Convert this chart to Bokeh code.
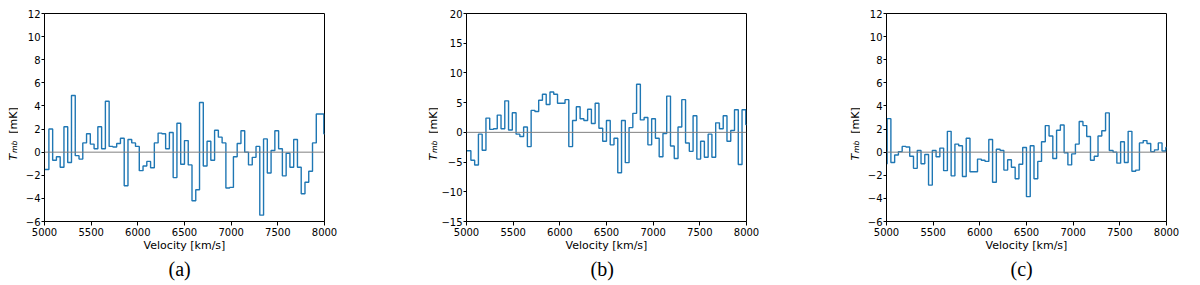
import numpy as np
from math import pi
from bokeh.plotting import figure
from bokeh.layouts import row
from bokeh.models import Span, Label, Title
from bokeh.embed import file_html
from bokeh.resources import INLINE

# ---- data -------------------------------------------------------------
V_START = 4986.5      # centre of first channel [km/s]
DV = 40.35            # channel width [km/s]
N_CHAN = 76
velocity = V_START + DV * np.arange(N_CHAN)

tmb_a = [-1.5, -1.5, 2.0, -0.7, -0.4, -1.3, 2.2, -0.9, 4.9, -0.3,
         -0.6, 0.8, 1.6, 0.7, 0.3, 2.2, 0.3, 4.4, 0.5, 0.45,
         0.75, 1.2, -2.9, 1.1, 0.8, 0.5, -1.6, -1.2, -0.8, -1.35,
         0.8, 1.65, 1.6, 0.3, 1.7, -2.2, 2.5, -1.05, 1.0, -1.1,
         -4.2, -3.25, 4.3, -1.2, 0.95, -0.7, 1.9, 1.3, 0.8, -3.1,
         -3.05, -0.4, 0.75, 1.85, 0.0, -1.1, -0.45, 0.5, -5.45, 1.15,
         -1.8, 0.15, 1.85, 0.3, -2.05, -0.1, -1.3, 1.1, -1.3, -3.6,
         -2.6, -1.65, 0.8, 3.3, 3.3, 1.6]

tmb_b = [-3.1, -3.1, -4.7, -5.5, -0.3, -3.0, 2.4, 0.5, 0.6, 2.9,
         0.6, 5.3, 0.4, 3.3, -0.3, -0.7, 0.9, -2.4, 3.7, 3.5,
         5.4, 6.4, 4.7, 6.8, 6.4, 4.9, 4.9, 5.5, -2.4, 2.0,
         4.3, 2.3, 2.0, 3.9, 1.5, 4.9, 0.7, -1.5, 2.0, -2.1,
         -1.0, -6.8, 2.0, -5.1, 0.8, 3.2, 8.1, 2.1, 2.5, -2.1,
         2.3, -1.0, -4.1, -0.2, 6.1, -2.3, -4.4, 0.9, 5.5, -1.8,
         -3.2, 2.8, -4.5, -1.5, -4.2, -0.3, -4.2, 1.6, 0.6, 2.8,
         -1.5, 0.3, 3.8, -5.4, 3.8, 1.3]

tmb_c = [-1.0, 2.9, -0.9, -0.25, 0.05, 0.5, 0.45, -0.35, -1.4, 0.15,
         -1.0, -0.2, -2.85, 0.15, -0.4, 0.35, -1.6, 1.8, -2.05, 0.7,
         0.55, -2.1, 1.2, -1.7, -1.7, -0.6, -0.7, -0.8, 1.1, -2.6,
         0.25, 0.15, -1.55, -0.65, -1.3, -2.3, -1.05, 0.4, -3.85, 0.55,
         -2.3, -0.8, 0.9, 2.3, 1.4, -0.55, 1.9, 2.35, -0.05, -1.1,
         -0.15, 0.7, 2.65, 2.3, 1.35, -0.7, -0.35, 1.4, 1.85, 3.4,
         0.15, 0.0, -0.95, 0.9, -0.9, 1.8, -1.65, -1.55, 0.8, 1.0,
         0.75, 0.05, 0.2, 0.8, 0.1, 0.4]

x_ticks = [5000, 5500, 6000, 6500, 7000, 7500, 8000]
y_ticks_ac = [-6, -4, -2, 0, 2, 4, 6, 8, 10, 12]
y_ticks_b = [-15, -10, -5, 0, 5, 10, 15, 20]
x_limits = (5000, 8000)
y_limits_ac = (-6, 12)
y_limits_b = (-15, 20)
captions = ["(a)", "(b)", "(c)"]
x_label = "Velocity [km/s]"

LINE_BLUE = "#1f77b4"
FONT = "DejaVu Sans"

# ---- layout constants (pixels) ---------------------------------------
TOP = 13
FRAME_W = 280
FRAME_H = 208
BOTTOM = 64
TOTAL_H = TOP + FRAME_H + BOTTOM
LABEL_W = 18          # strip holding the rotated y label
AXIS_W = 26           # room for the y tick labels
CAPTION_SHIFT = 124   # left edge of the caption, from the frame's left


def minus(v):
    return str(v).replace("-", "\u2212")


def ylabel_strip():
    s = figure(frame_width=LABEL_W, frame_height=TOTAL_H,
               min_border=0, x_range=(0, LABEL_W), y_range=(0, TOTAL_H),
               x_axis_type=None, y_axis_type=None,
               output_backend="svg", toolbar_location=None)
    s.outline_line_color = None
    s.xgrid.visible = False
    s.ygrid.visible = False
    s.background_fill_color = "white"
    s.border_fill_color = "white"
    yc = TOTAL_H - (TOP + FRAME_H / 2)
    common = dict(x=12.5, y=yc, angle=pi / 2, text_align="center",
                  text_baseline="middle", text_font=FONT,
                  text_color="black")
    s.add_layout(Label(text="T", y_offset=-26.6, text_font_size="11px",
                       text_font_style="italic", **common))
    s.add_layout(Label(text="mb", x_offset=1.8, y_offset=-16.3,
                       text_font_size="7.7px", text_font_style="italic",
                       **common))
    s.add_layout(Label(text="[mK]", y_offset=10, text_font_size="11px",
                       **common))
    return s


def make_panel(values, yticks, ylim, caption, border_right):
    p = figure(frame_width=FRAME_W, frame_height=FRAME_H,
               min_border_left=AXIS_W, min_border_right=border_right,
               min_border_top=TOP, min_border_bottom=BOTTOM,
               x_range=x_limits, y_range=ylim,
               output_backend="svg", toolbar_location=None)
    p.background_fill_color = "white"
    p.border_fill_color = "white"
    p.xgrid.visible = False
    p.ygrid.visible = False
    p.outline_line_color = "black"
    p.outline_line_width = 1

    for ax in (p.xaxis[0], p.yaxis[0]):
        ax.axis_line_color = "black"
        ax.major_tick_line_color = "black"
        ax.major_tick_out = 4
        ax.major_tick_in = 0
        ax.minor_tick_line_color = None
        ax.major_label_text_font = FONT
        ax.major_label_text_font_size = "10px"
        ax.major_label_text_color = "black"
        ax.major_label_standoff = 2

    p.xaxis.ticker = x_ticks
    p.xaxis.major_label_overrides = {t: str(t) for t in x_ticks}
    p.xaxis.axis_label = x_label
    p.xaxis.axis_label_text_font = FONT
    p.xaxis.axis_label_text_font_size = "11px"
    p.xaxis.axis_label_text_font_style = "normal"
    p.xaxis.axis_label_text_color = "black"
    p.xaxis.axis_label_standoff = 0

    p.yaxis.ticker = yticks
    p.yaxis.major_label_overrides = {t: minus(t) for t in yticks}
    p.yaxis.major_label_standoff = 1
    p.yaxis.major_tick_out = 3

    p.add_layout(Span(location=0, dimension="width",
                      line_color="gray", line_width=1))
    p.step(velocity, values, mode="center",
           line_color=LINE_BLUE, line_width=1.4)

    p.add_layout(Title(text=caption, align="left", offset=CAPTION_SHIFT,
                       text_font="Liberation Serif", text_font_size="20px",
                       text_font_style="normal", text_color="black",
                       standoff=2), "below")
    return p


p1 = make_panel(tmb_a, y_ticks_ac, y_limits_ac, captions[0],
                420 - LABEL_W - AXIS_W - FRAME_W)
p2 = make_panel(tmb_b, y_ticks_b, y_limits_b, captions[1],
                420 - LABEL_W - AXIS_W - FRAME_W)
p3 = make_panel(tmb_c, y_ticks_ac, y_limits_ac, captions[2], 26)

p = row(ylabel_strip(), p1, ylabel_strip(), p2, ylabel_strip(), p3)
open("out.html", "w").write(file_html(p, INLINE))
